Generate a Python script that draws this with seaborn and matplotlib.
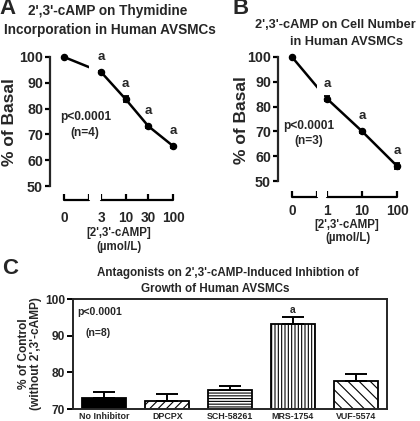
import matplotlib

matplotlib.use("Agg")

import numpy as np
import pandas as pd
import seaborn as sns
from matplotlib import pyplot as plt

# panel A: thymidine incorporation vs 2',3'-cAMP dose
DOSES_A = [0, 3, 10, 30, 100]
DOSE_LABELS_A = ["0", "3", "10", "30", "100"]
THYMIDINE_PCT = [100.0, 94.2, 83.6, 73.2, 65.5]
THYMIDINE_SEM = [0.0, 0.5, 1.2, 0.6, 0.6]

# panel B: cell number vs dose
DOSES_B = [0, 1, 10, 100]
DOSE_LABELS_B = ["0", "1", "10", "100"]
CELL_PCT = [100.0, 83.2, 70.1, 56.1]
CELL_SEM = [0.0, 0.9, 0.6, 1.3]

# panel C: antagonists
INHIBITORS = ["No Inhibitor", "DPCPX", "SCH-58261", "MRS-1754", "VUF-5574"]
GROWTH_PCT = [73.0, 72.3, 75.1, 93.1, 77.6]
GROWTH_SEM = [1.7, 1.7, 1.2, 2.0, 1.9]
HATCHES = ["", "////", "------", "|||||", "\\\\\\"]

W, H = 420, 421

sns.set_theme(style="ticks")
plt.rcParams["font.family"] = ["Liberation Sans", "DejaVu Sans"]
plt.rcParams["font.weight"] = "bold"
plt.rcParams["axes.labelweight"] = "bold"
plt.rcParams["hatch.linewidth"] = 0.8
plt.rcParams["hatch.color"] = "black"


def px_box(left, top, right, bottom):
    return [left / W, 1 - bottom / H, (right - left) / W, (bottom - top) / H]


def put(fig, x, y, s, size, **kw):
    fig.text(x / W, 1 - y / H, s, fontsize=size, fontweight="bold",
             ha=kw.pop("ha", "center"), va=kw.pop("va", "center"), **kw)


def broken_log(zero_pos):
    # x = 0 sits at zero_pos on a log10 axis, left of a gap
    def forward(x):
        x = np.asarray(x, dtype=float)
        safe = np.where(x > 0, x, 1.0)
        return np.where(x > 0, np.log10(safe), zero_pos + x)

    def inverse(p):
        p = np.asarray(p, dtype=float)
        return np.where(p > zero_pos, 10.0 ** p, p - zero_pos)

    return forward, inverse


def dose_panel(ax, doses, labels, pct, sem, zero_pos, break_end, xlim, ylim, tick_pad):
    ax.set_xscale("function", functions=broken_log(zero_pos))
    frame = pd.DataFrame({"dose": doses, "pct": pct})
    sns.lineplot(data=frame, x="dose", y="pct", color="black", lw=1.8,
                 ax=ax, zorder=2, sort=True)
    ax.lines[-1].set_clip_on(False)
    # gap of the broken x axis
    ax.axvspan(break_end, doses[1], color="white", lw=0, zorder=3)
    ax.errorbar(doses, pct, yerr=sem, fmt="o", color="black", ms=4.4,
                capsize=2.5, elinewidth=1.3, capthick=1.3, zorder=4, clip_on=False)
    for d, p in zip(doses[1:], pct[1:]):
        ax.annotate("a", (d, p), xytext=(0, 9), textcoords="offset pixels",
                    ha="center", va="bottom", fontsize=9.5, fontweight="bold", zorder=5)

    xt = ax.get_xaxis_transform()
    ax.plot([doses[0], break_end], [0, 0], transform=xt, color="black", lw=1.6, clip_on=False)
    ax.plot([doses[1], doses[-1]], [0, 0], transform=xt, color="black", lw=1.6, clip_on=False)

    ax.set_xlim(*xlim)
    ax.set_ylim(*ylim)
    ax.set_xticks(doses, labels)
    ax.set_xticks([break_end], minor=True)
    ax.tick_params(axis="x", which="both", direction="in", length=4, width=1.6,
                   pad=tick_pad, labelsize=9.8, color="black")
    ax.set_yticks(range(50, 101, 10))
    ax.tick_params(axis="y", direction="out", length=3.5, width=1.6, pad=1.5,
                   labelsize=10.3, color="black")
    for lab in ax.get_xticklabels() + ax.get_yticklabels():
        lab.set_fontweight("bold")
    ax.spines["left"].set_bounds(50, 100)
    ax.spines["left"].set_linewidth(1.6)
    for side in ("top", "right", "bottom"):
        ax.spines[side].set_visible(False)
    ax.set_xlabel("")
    ax.set_ylabel("")
    ax.set_facecolor("none")


fig = plt.figure(figsize=(W / 100, H / 100), dpi=100)

# ---- A ----
axA = fig.add_axes(px_box(50, 57, 178, 200))
dose_panel(axA, DOSES_A, DOSE_LABELS_A, THYMIDINE_PCT, THYMIDINE_SEM,
           zero_pos=-0.305, break_end=1.70, xlim=(-0.296, 127.0),
           ylim=(44.6, 100), tick_pad=8)
put(fig, 8, 9, "A", 16)
put(fig, 108, 11, "2',3'-cAMP on Thymidine", 9.8)
put(fig, 110, 30, "Incorporation in Human AVSMCs", 9.8)
put(fig, 10, 122, "% of Basal", 12.5, rotation=90)
put(fig, 86, 117, "p<0.0001", 8.6)
put(fig, 85, 133, "(n=4)", 8.6)
put(fig, 119, 233, "[2',3'-cAMP]", 8.3)
put(fig, 119, 247, "(\u00b5mol/L)", 8.3)

# ---- B ----
axB = fig.add_axes(px_box(278, 57, 400, 197))
dose_panel(axB, DOSES_B, DOSE_LABELS_B, CELL_PCT, CELL_SEM,
           zero_pos=-1.0, break_end=0.52, xlim=(-0.4, 122.0),
           ylim=(43.6, 100), tick_pad=5)
put(fig, 241, 9, "B", 16)
put(fig, 335, 25, "2',3'-cAMP on Cell Number", 9.2)
put(fig, 346, 42, "in Human AVSMCs", 9.2)
put(fig, 242, 120, "% of Basal", 12.5, rotation=90)
put(fig, 309, 126, "p<0.0001", 8.6)
put(fig, 309, 141, "(n=3)", 8.6)
put(fig, 347, 225, "[2',3'-cAMP]", 8.3)
put(fig, 348, 238, "(\u00b5mol/L)", 8.3)

# ---- C ----
axC = fig.add_axes(px_box(73, 299, 387, 409))
sns.barplot(x=INHIBITORS, y=GROWTH_PCT, ax=axC, color="white", edgecolor="black",
            linewidth=1.3, width=0.7, saturation=1)
for patch, hatch in zip(axC.patches, HATCHES):
    patch.set_hatch(hatch)
    patch.set_facecolor("white")
axC.patches[0].set_facecolor("black")
pos = np.arange(len(INHIBITORS))
axC.errorbar(pos, GROWTH_PCT, yerr=[np.zeros(len(GROWTH_SEM)), GROWTH_SEM], fmt="none",
             ecolor="black", elinewidth=1.4, capsize=8, capthick=1.4, zorder=1)
mrs = INHIBITORS.index("MRS-1754")
axC.annotate("a", (mrs, GROWTH_PCT[mrs] + GROWTH_SEM[mrs]), xytext=(0, 2),
             textcoords="offset pixels", ha="center", va="bottom", fontsize=7.5,
             fontweight="bold")
axC.set_ylim(70, 100)
axC.set_xlim(-0.5, len(INHIBITORS) - 0.5)
axC.set_yticks([70, 80, 90, 100])
axC.tick_params(axis="y", direction="out", length=4, width=1.4, pad=1.5, labelsize=8.6,
                color="black")
axC.tick_params(axis="x", length=0, pad=2.5, labelsize=6.4)
for lab in axC.get_xticklabels() + axC.get_yticklabels():
    lab.set_fontweight("bold")
for side in axC.spines.values():
    side.set_visible(True)
    side.set_linewidth(1.4)
axC.set_ylabel("% of Control\n(without 2',3'-cAMP)", fontsize=8.6, fontweight="bold",
               labelpad=2, linespacing=1.05)
axC.text(0.015, 0.88, "p<0.0001", transform=axC.transAxes, fontsize=7.6,
         fontweight="bold", ha="left", va="center")
axC.text(0.04, 0.69, "(n=8)", transform=axC.transAxes, fontsize=7.6,
         fontweight="bold", ha="left", va="center")
put(fig, 10, 268, "C", 16)
put(fig, 228, 273, "Antagonists on 2',3'-cAMP-Induced Inhibtion of", 8.4)
put(fig, 215, 289, "Growth of Human AVSMCs", 8.4)

fig.savefig("out.png", dpi=100)
